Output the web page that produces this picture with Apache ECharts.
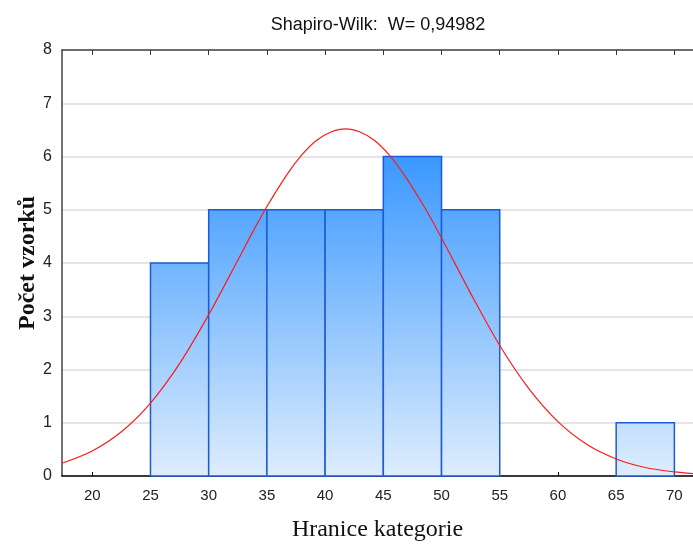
<!DOCTYPE html>
<html><head><meta charset="utf-8">
<script src="https://cdn.jsdelivr.net/npm/echarts@6/dist/echarts.min.js"></script>
<style>html,body{margin:0;padding:0;background:#fff}#c{width:693px;height:544px}</style>
</head><body><div id="c"></div>
<script>
// Histogram bins
var binStart = [25, 30, 35, 40, 45, 50, 55, 60, 65];
var binEnd   = [30, 35, 40, 45, 50, 55, 60, 65, 70];
var counts   = [4, 5, 5, 5, 6, 5, 0, 0, 1];
// Fitted normal curve
var curveX = [17.4, 20, 22.5, 25, 27.5, 30, 32.5, 33.75, 35, 36.75, 38, 39.25, 40.5, 41.75, 43, 44.25, 45.5, 46.75, 48.5, 50, 52.5, 55, 57.5, 60, 62.5, 65, 67.5, 70, 71.6];
var curveY = [0.24, 0.47, 0.83, 1.37, 2.11, 3.03, 4.05, 4.57, 5.06, 5.67, 6.03, 6.30, 6.46, 6.52, 6.46, 6.30, 6.03, 5.67, 5.06, 4.47, 3.43, 2.45, 1.64, 1.02, 0.59, 0.32, 0.16, 0.077, 0.045];
var xTicks = [20, 25, 30, 35, 40, 45, 50, 55, 60, 65, 70];
var yTicks = [0, 1, 2, 3, 4, 5, 6, 7, 8];
var titleText = 'Shapiro-Wilk:  W= 0,94982';
var xName = 'Hranice kategorie';
var yName = 'Počet vzorků';

var histData = binStart.map(function (s, i) { return [s, binEnd[i], counts[i]]; });
var curveData = curveX.map(function (x, i) { return [x, curveY[i]]; });

var narrow = "'Liberation Sans Narrow', 'Liberation Sans', Arial, sans-serif";
var serif = "'Liberation Serif', 'Times New Roman', serif";

var chart = echarts.init(document.getElementById('c'), null, {renderer: 'canvas'});
chart.setOption({
  animation: false,
  backgroundColor: '#ffffff',
  title: {
    text: titleText, left: 373, top: 11, textAlign: 'center',
    textStyle: {fontFamily: narrow, fontSize: 18, fontWeight: 'normal', color: '#111'}
  },
  grid: {left: 62, top: 50, right: 0, bottom: 68, containLabel: false, outerBoundsMode: 'none'},
  xAxis: [{
    type: 'value', min: 17.4, max: 71.6, position: 'bottom',
    name: xName, nameLocation: 'middle', nameGap: 42, nameMoveOverlap: false,
    nameTextStyle: {fontFamily: serif, fontSize: 24, color: '#111'},
    axisLine: {show: true, lineStyle: {color: '#000', width: 1.5}},
    axisTick: {show: true, inside: true, length: 4, customValues: xTicks, lineStyle: {color: '#000'}},
    axisLabel: {customValues: xTicks, margin: 12, fontFamily: narrow, fontSize: 15, color: '#222'},
    splitLine: {show: false}
  }, {
    type: 'value', min: 17.4, max: 71.6, position: 'top',
    axisLine: {show: true, lineStyle: {color: '#444', width: 1.5}},
    axisTick: {show: true, inside: true, length: 5, customValues: xTicks, lineStyle: {color: '#333'}},
    axisLabel: {show: false},
    splitLine: {show: false}
  }],
  yAxis: {
    type: 'value', min: 0, max: 8, interval: 1,
    name: yName, nameLocation: 'middle', nameGap: 22, nameRotate: 90, nameMoveOverlap: false,
    nameTextStyle: {fontFamily: serif, fontSize: 24, fontWeight: 'bold', color: '#111'},
    axisLine: {show: true, lineStyle: {color: '#444', width: 1.5}},
    axisTick: {show: false},
    axisLabel: {margin: 10, fontFamily: narrow, fontSize: 16, color: '#222'},
    splitLine: {show: true, lineStyle: {color: '#dcdcdc', width: 1.5}}
  },
  series: [{
    type: 'custom',
    data: histData,
    encode: {x: [0, 1], y: 2},
    renderItem: function (params, api) {
      var v = api.value(2);
      if (!v) return null;
      var p0 = api.coord([api.value(0), 0]);
      var p1 = api.coord([api.value(1), v]);
      var gTop = api.coord([api.value(0), 6])[1];
      var gBot = p0[1];
      return {
        type: 'rect',
        shape: {x: p0[0], y: p1[1], width: p1[0] - p0[0], height: p0[1] - p1[1]},
        style: {
          fill: new echarts.graphic.LinearGradient(0, gTop, 0, gBot, [
            {offset: 0, color: '#3a98ff'},
            {offset: 1, color: '#deedfd'}
          ], true),
          stroke: '#1d5bd4', lineWidth: 1.5
        }
      };
    },
    z: 2
  }, {
    type: 'line',
    data: curveData,
    smooth: 0.3,
    showSymbol: false,
    lineStyle: {color: '#ff1a1a', width: 1.2},
    z: 3
  }]
});
</script></body></html>
